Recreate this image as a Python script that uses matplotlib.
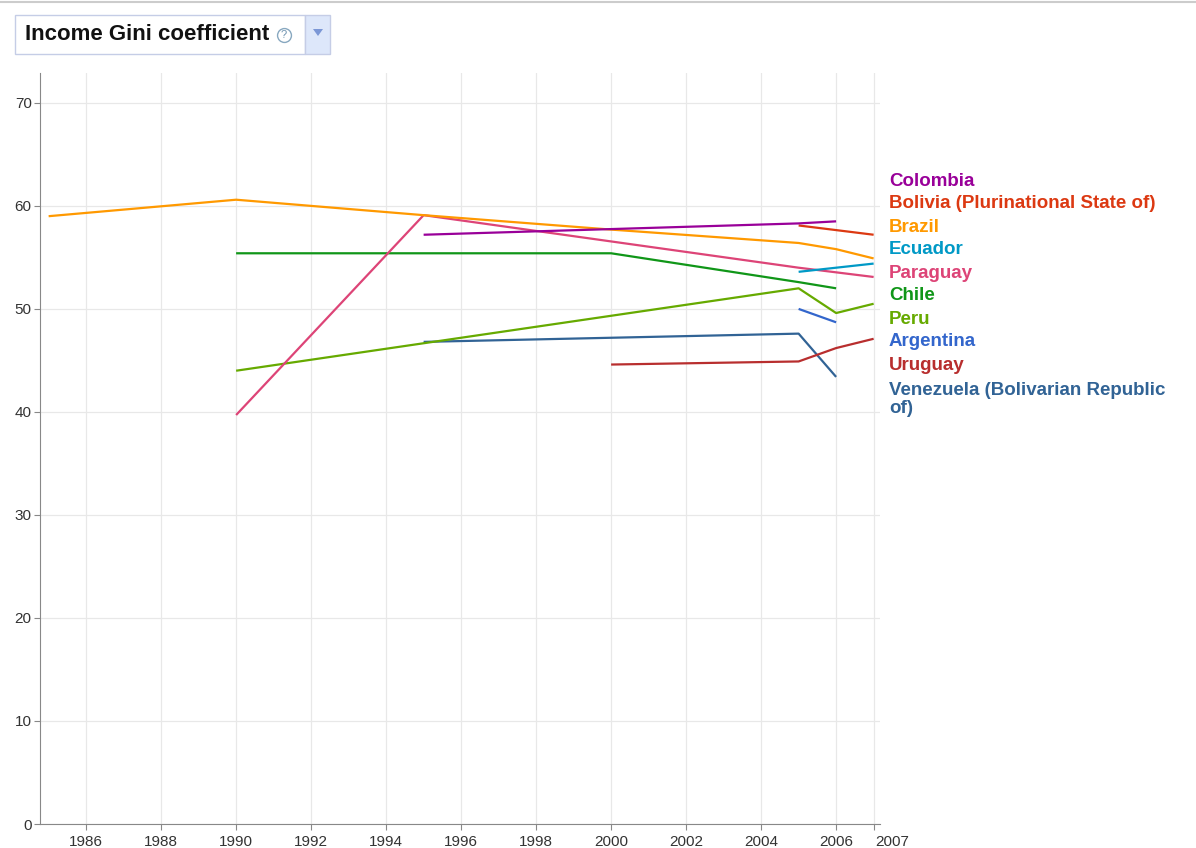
import matplotlib.pyplot as plt
from matplotlib.patches import Rectangle, Polygon
from matplotlib.transforms import ScaledTranslation

plt.rcParams['font.family'] = ['Liberation Sans', 'DejaVu Sans']

# Gini values, one series per country
countries = ["Colombia", "Bolivia (Plurinational State of)", "Brazil", "Ecuador",
             "Paraguay", "Chile", "Peru", "Argentina", "Uruguay",
             "Venezuela (Bolivarian Republic\nof)"]
colors = ["#990099", "#dc3912", "#ff9900", "#0099c6", "#dd4477",
          "#109618", "#66aa00", "#3366cc", "#b82e2e", "#316395"]

colombia_years = [1995, 2005, 2006]
colombia_vals = [57.2, 58.3, 58.5]
bolivia_years = [2005, 2007]
bolivia_vals = [58.1, 57.2]
brazil_years = [1985, 1990, 1995, 2000, 2005, 2006, 2007]
brazil_vals = [59.0, 60.6, 59.1, 57.7, 56.4, 55.8, 54.9]
ecuador_years = [2005, 2007]
ecuador_vals = [53.6, 54.4]
paraguay_years = [1990, 1995, 2005, 2007]
paraguay_vals = [39.7, 59.1, 54.0, 53.1]
chile_years = [1990, 2000, 2005, 2006]
chile_vals = [55.4, 55.4, 52.6, 52.0]
peru_years = [1990, 2005, 2006, 2007]
peru_vals = [44.0, 52.0, 49.6, 50.5]
argentina_years = [2005, 2006]
argentina_vals = [50.0, 48.7]
uruguay_years = [2000, 2005, 2006, 2007]
uruguay_vals = [44.6, 44.9, 46.2, 47.1]
venezuela_years = [1995, 2005, 2006]
venezuela_vals = [46.8, 47.6, 43.4]

series = [(colombia_years, colombia_vals), (bolivia_years, bolivia_vals),
          (brazil_years, brazil_vals), (ecuador_years, ecuador_vals),
          (paraguay_years, paraguay_vals), (chile_years, chile_vals),
          (peru_years, peru_vals), (argentina_years, argentina_vals),
          (uruguay_years, uruguay_vals), (venezuela_years, venezuela_vals)]

x_ticks = [1986, 1988, 1990, 1992, 1994, 1996, 1998, 2000, 2002, 2004, 2006, 2007]
y_ticks = [0, 10, 20, 30, 40, 50, 60, 70]

W, H = 1196, 848
fig = plt.figure(figsize=(W / 100, H / 100), dpi=100)
ax = fig.add_axes([40 / W, 24 / H, 840 / W, 751 / H])

# draw order: back to front so colombia ends up on top
for (yrs, vals), c in reversed(list(zip(series, colors))):
    ax.plot(yrs, vals, color=c, lw=1.6, solid_capstyle='butt')

ax.set_xlim(1984.77, 2007.17)
ax.set_ylim(0, 72.9)
ax.set_xticks(x_ticks)
ax.set_xticklabels([str(t) for t in x_ticks])
ax.set_yticks(y_ticks)
ax.grid(True, color="#e8e8e8", lw=0.9)
ax.set_axisbelow(True)
for s in ["top", "right"]:
    ax.spines[s].set_visible(False)
for s in ["left", "bottom"]:
    ax.spines[s].set_color("#888888")
ax.tick_params(axis='both', colors="#888888", labelcolor="#333333",
               labelsize=11, length=4, width=0.8)
ax.tick_params(axis='x', pad=4)
ax.tick_params(axis='y', pad=2)

# 2007 label sits a bit right of its tick
lbl = ax.get_xticklabels()[-1]
lbl.set_transform(lbl.get_transform() + ScaledTranslation(19 / 100, 0, fig.dpi_scale_trans))

# country labels at the right
for i, (name, c) in enumerate(zip(countries, colors)):
    if i < 9:
        fig.text(889 / W, 1 - (181 + 23 * i) / H, name, color=c, fontsize=13.5,
                 fontweight='bold', ha='left', va='center')
    else:
        fig.text(889 / W, 1 - (382 + 23 * (i - 9)) / H, name, color=c, fontsize=13.5,
                 fontweight='bold', ha='left', va='top', multialignment='left',
                 linespacing=1.05)

# header: top line and metric selector box
fig.add_artist(plt.Line2D([0, 1], [1 - 1.5 / H, 1 - 1.5 / H], color="#cccccc", lw=1.5))
fig.add_artist(Rectangle((15 / W, 1 - 54 / H), 290 / W, 39 / H, facecolor='white',
                         edgecolor="#c5cde6", lw=1))
fig.add_artist(Rectangle((305 / W, 1 - 54 / H), 25 / W, 39 / H, facecolor="#dde7fa",
                         edgecolor="#c5cde6", lw=1))
fig.add_artist(Polygon([(313 / W, 1 - 29 / H), (323 / W, 1 - 29 / H), (318 / W, 1 - 36 / H)],
                       closed=True, facecolor="#7b97d6", edgecolor='none'))
fig.text(25 / W, 1 - 35 / H, "Income Gini coefficient", fontsize=16, fontweight='bold',
         color="#111111", ha='left', va='center')
fig.add_artist(plt.Line2D([284 / W], [1 - 35 / H], marker='o', markersize=10,
                          markerfacecolor='white', markeredgecolor="#88a8c0",
                          markeredgewidth=1))
fig.text(284 / W, 1 - 35.5 / H, "?", fontsize=8, color="#6f93b0", ha='center', va='center')

fig.savefig("out.png", dpi=100)
